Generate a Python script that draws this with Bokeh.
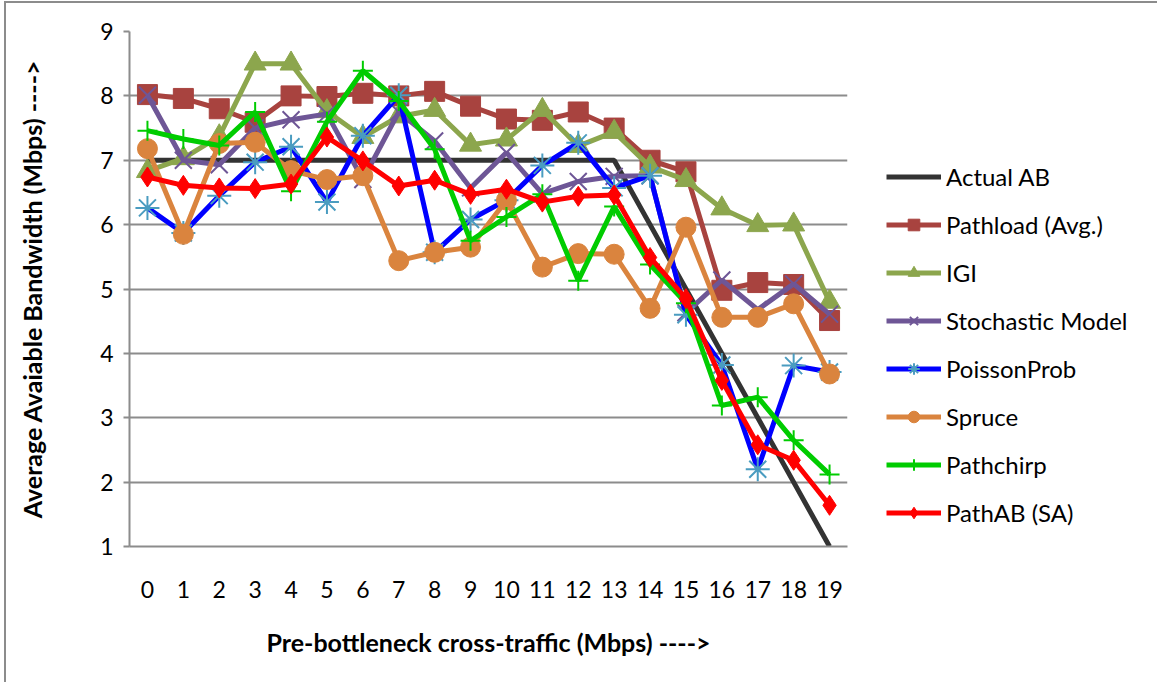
from bokeh.plotting import figure
from bokeh.models import Legend, LegendItem, FixedTicker, Range1d
from bokeh.embed import file_html
from bokeh.resources import INLINE

# ---- data ----
x = [0, 1, 2, 3, 4, 5, 6, 7, 8, 9, 10, 11, 12, 13, 14, 15, 16, 17, 18, 19]
x_tick_labels = ["0", "1", "2", "3", "4", "5", "6", "7", "8", "9", "10",
                 "11", "12", "13", "14", "15", "16", "17", "18", "19"]
y_ticks = [1, 2, 3, 4, 5, 6, 7, 8, 9]

actual_ab = [7, 7, 7, 7, 7, 7, 7, 7, 7, 7, 7, 7, 7, 7, 6, 5, 4, 3, 2, 1]
pathload = [8.02, 7.96, 7.80, 7.59, 8.00, 7.99, 8.04, 8.00, 8.07, 7.84,
            7.64, 7.62, 7.75, 7.50, 7.00, 6.82, 4.98, 5.10, 5.07, 4.51]
igi = [6.83, 7.03, 7.37, 8.50, 8.50, 7.76, 7.36, 7.68, 7.78, 7.24,
       7.32, 7.78, 7.22, 7.44, 6.90, 6.69, 6.25, 5.99, 6.00, 4.80]
stochastic = [8.01, 7.00, 6.93, 7.50, 7.63, 7.72, 6.70, 7.75, 7.30, 6.57,
              7.12, 6.48, 6.67, 6.75, 6.76, 4.63, 5.14, 4.68, 5.08, 4.61]
poisson = [6.26, 5.87, 6.45, 6.97, 7.21, 6.35, 7.38, 8.01, 5.57, 6.08,
           6.38, 6.92, 7.27, 6.57, 6.76, 4.60, 3.82, 2.20, 3.81, 3.71]
spruce = [7.18, 5.85, 7.26, 7.28, 6.84, 6.70, 6.76, 5.44, 5.57, 5.65,
          6.38, 5.34, 5.55, 5.54, 4.70, 5.96, 4.56, 4.56, 4.77, 3.68]
pathchirp = [7.46, 7.33, 7.23, 7.75, 6.52, 7.60, 8.39, 7.92, 7.17, 5.75,
             6.12, 6.47, 5.13, 6.28, 5.38, 4.78, 3.19, 3.32, 2.65, 2.12]
pathab = [6.74, 6.61, 6.57, 6.56, 6.63, 7.36, 6.99, 6.60, 6.69, 6.47,
          6.55, 6.35, 6.44, 6.46, 5.49, 4.85, 3.58, 2.58, 2.34, 1.64]

series_names = ["Actual AB", "Pathload (Avg.)", "IGI", "Stochastic Model",
                "PoissonProb", "Spruce", "Pathchirp", "PathAB (SA)"]

FONT = "Lato"
GRID = "#8c8c8c"

p = figure(frame_width=718, frame_height=515,
           min_border_left=123, min_border_top=28,
           min_border_right=300, min_border_bottom=136,
           output_backend="svg", toolbar_location=None,
           x_range=Range1d(-0.5, 19.5), y_range=Range1d(1, 9))
p.styles = {"border-left": "2px solid #8c8c8c", "border-top": "2px solid #8c8c8c",
            "margin-left": "4px", "margin-top": "1px"}
p.outline_line_color = None
p.background_fill_color = "white"
p.border_fill_color = "white"

p.xgrid.grid_line_color = None
p.ygrid.grid_line_color = GRID
p.ygrid.grid_line_width = 2
p.yaxis.ticker = FixedTicker(ticks=y_ticks)
p.xaxis.ticker = FixedTicker(ticks=x)
p.xaxis.major_label_overrides = {i: s for i, s in zip(x, x_tick_labels)}

for ax in (p.xaxis[0], p.yaxis[0]):
    ax.axis_line_color = GRID
    ax.axis_line_width = 2
    ax.minor_tick_line_color = None
    ax.major_label_text_font = FONT
    ax.major_label_text_font_size = "23px"
    ax.major_label_text_color = "black"
    ax.axis_label_text_font = FONT
    ax.axis_label_text_font_style = "bold"
    ax.axis_label_text_font_size = "25px"
    ax.axis_label_text_color = "black"

p.xaxis.major_tick_line_color = None
p.xaxis.major_label_standoff = 28
p.xaxis.axis_label = "Pre-bottleneck cross-traffic (Mbps) ---->"
p.xaxis.axis_label_standoff = 26

p.yaxis.major_tick_line_color = GRID
p.yaxis.major_tick_line_width = 2
p.yaxis.major_tick_out = 6
p.yaxis.major_tick_in = 0
p.yaxis.major_label_standoff = 10
p.yaxis.axis_label = "Average Avaiable Bandwidth (Mbps) ---->"
p.yaxis.axis_label_standoff = 50

LW = 5
items = []

r = p.line(x, actual_ab, line_color="#333333", line_width=LW)
items.append(LegendItem(label=series_names[0], renderers=[r]))

r1 = p.line(x, pathload, line_color="#A8433F", line_width=LW)
r2 = p.scatter(x, pathload, marker="square", size=20, fill_color="#A8433F",
               line_color="#A8433F")
items.append(LegendItem(label=series_names[1], renderers=[r1, r2]))

r1 = p.line(x, igi, line_color="#8CA64D", line_width=LW)
r2 = p.scatter(x, igi, marker="triangle", size=22, fill_color="#8CA64D",
               line_color="#8CA64D")
items.append(LegendItem(label=series_names[2], renderers=[r1, r2]))

r1 = p.line(x, stochastic, line_color="#6E5696", line_width=LW)
r2 = p.scatter(x, stochastic, marker="x", size=24, line_color="#6E5696",
               line_width=2)
items.append(LegendItem(label=series_names[3], renderers=[r1, r2]))

r1 = p.line(x, poisson, line_color="#0000FF", line_width=LW)
r2 = p.scatter(x, poisson, marker="asterisk", size=24, line_color="#4A9CC0",
               line_width=2)
items.append(LegendItem(label=series_names[4], renderers=[r1, r2]))

r1 = p.line(x, spruce, line_color="#DA843E", line_width=LW)
r2 = p.scatter(x, spruce, marker="circle", size=20, fill_color="#DA843E",
               line_color="#DA843E")
items.append(LegendItem(label=series_names[5], renderers=[r1, r2]))

r1 = p.line(x, pathchirp, line_color="#00CC00", line_width=LW)
r2 = p.scatter(x, pathchirp, marker="cross", size=20, line_color="#00CC00",
               line_width=2)
items.append(LegendItem(label=series_names[6], renderers=[r1, r2]))

r1 = p.line(x, pathab, line_color="#FF0000", line_width=LW)
r2 = p.scatter(x, pathab, marker="diamond", size=20, fill_color="#FF0000",
               line_color="#FF0000")
items.append(LegendItem(label=series_names[7], renderers=[r1, r2]))

legend = Legend(items=items, location=(39, 19))
legend.background_fill_alpha = 0
legend.border_line_color = None
legend.padding = 0
legend.margin = 0
legend.spacing = 19
legend.glyph_width = 55
legend.glyph_height = 29
legend.label_height = 29
legend.label_standoff = 5
legend.label_text_font = FONT
legend.label_text_font_size = "24px"
legend.label_text_color = "black"
p.add_layout(legend, "right")

open("out.html", "w").write(file_html(p, INLINE))
